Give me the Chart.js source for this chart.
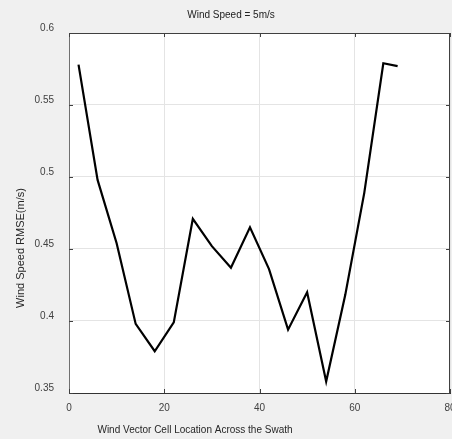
<!DOCTYPE html>
<html>
<head>
<meta charset="utf-8">
<script src="https://cdn.jsdelivr.net/npm/chart.js@4"></script>
<style>
  html, body { margin: 0; padding: 0; background: #f0f0f0; }
  canvas { display: block; }
</style>
</head>
<body>
<canvas id="rmse-chart" width="452" height="439"></canvas>
<script>
(function () {
    "use strict";

    // Datos
    const cellLocation = [2, 6, 10, 14, 18, 22, 26, 30, 34, 38, 42, 46, 50, 54, 58, 62, 66, 69];
    const speedRmse = [0.578, 0.498, 0.454, 0.398, 0.379, 0.399, 0.471, 0.452, 0.437, 0.465,
        0.436, 0.394, 0.420, 0.358, 0.418, 0.489, 0.579, 0.577];
    const xTicks = [0, 20, 40, 60, 80];
    const yTicks = [0.35, 0.4, 0.45, 0.5, 0.55, 0.6];
    const yTickLabels = ["0.35", "0.4", "0.45", "0.5", "0.55", "0.6"];

    const fontFamily = "'Liberation Sans', Arial, Helvetica, sans-serif";

    // Fondo blanco, marco y marcas interiores al estilo MATLAB
    const frame = {
        id: "frame",
        beforeDraw(chart) {
            const { ctx, chartArea: a } = chart;
            ctx.save();
            ctx.fillStyle = "#ffffff";
            ctx.fillRect(a.left, a.top, a.right - a.left, a.bottom - a.top);
            ctx.restore();
        },
        afterDraw(chart) {
            const { ctx, chartArea: a, scales } = chart;
            ctx.save();
            ctx.lineWidth = 1;
            ctx.strokeStyle = "#404040";
            ctx.beginPath();
            ctx.moveTo(a.left, a.top + 0.5);
            ctx.lineTo(a.right, a.top + 0.5);
            ctx.moveTo(a.right - 0.5, a.top);
            ctx.lineTo(a.right - 0.5, a.bottom);
            xTicks.forEach(v => {
                const px = Math.round(scales.x.getPixelForValue(v)) + 0.5;
                ctx.moveTo(px, a.bottom);
                ctx.lineTo(px, a.bottom - 4);
                ctx.moveTo(px, a.top);
                ctx.lineTo(px, a.top + 4);
            });
            yTicks.forEach(v => {
                const py = Math.round(scales.y.getPixelForValue(v)) + 0.5;
                ctx.moveTo(a.left, py);
                ctx.lineTo(a.left + 4, py);
                ctx.moveTo(a.right, py);
                ctx.lineTo(a.right - 4, py);
            });
            ctx.stroke();

            ctx.fillStyle = "#222222";
            ctx.font = "10px " + fontFamily;
            ctx.textAlign = "center";
            ctx.textBaseline = "middle";
            ctx.fillText("Wind Speed = 5m/s", 231, 15);
            ctx.fillStyle = "#262626";
            ctx.fillText("Wind Vector Cell Location Across the Swath", 195, 430);
            ctx.translate(21, 248);
            ctx.rotate(-Math.PI / 2);
            ctx.font = "11px " + fontFamily;
            ctx.fillText("Wind Speed RMSE(m/s)", 0, 0);
            ctx.restore();
        },
    };

    const ctx = document.getElementById("rmse-chart").getContext("2d");
    new Chart(ctx, {
        type: "line",
        data: {
            datasets: [
                {
                    data: cellLocation.map((x, i) => ({ x: x, y: speedRmse[i] })),
                    borderColor: "#000000",
                    borderWidth: 2.2,
                    pointRadius: 0,
                    tension: 0,
                    fill: false,
                },
            ],
        },
        options: {
            responsive: false,
            animation: false,
            devicePixelRatio: 1,
            layout: {
                padding: { top: 33, right: 2, bottom: 0, left: 0 },
            },
            plugins: {
                legend: { display: false },
                tooltip: { enabled: false },
            },
            scales: {
                x: {
                    type: "linear",
                    min: 0,
                    max: 80,
                    afterBuildTicks: (scale) => {
                        scale.ticks = xTicks.map(v => ({ value: v }));
                    },
                    afterFit: (scale) => {
                        scale.height = 46;
                        scale.paddingRight = 0;
                        scale.paddingLeft = 0;
                    },
                    grid: { color: "#e4e4e4", lineWidth: 1, drawTicks: false },
                    border: { display: true, color: "#333333", width: 1 },
                    ticks: {
                        padding: 9,
                        color: "#404040",
                        font: { family: fontFamily, size: 10 },
                        maxRotation: 0,
                    },
                },
                y: {
                    type: "linear",
                    min: 0.35,
                    max: 0.6,
                    afterBuildTicks: (scale) => {
                        scale.ticks = yTicks.map(v => ({ value: v }));
                    },
                    afterFit: (scale) => {
                        scale.width = 69;
                    },
                    grid: { color: "#e4e4e4", lineWidth: 1, drawTicks: false },
                    border: { display: true, color: "#707070", width: 1 },
                    ticks: {
                        padding: 15,
                        labelOffset: -5,
                        color: "#404040",
                        font: { family: fontFamily, size: 10 },
                        callback: (value, index) => yTickLabels[index],
                    },
                },
            },
        },
        plugins: [frame],
    });
})();
</script>
</body>
</html>
